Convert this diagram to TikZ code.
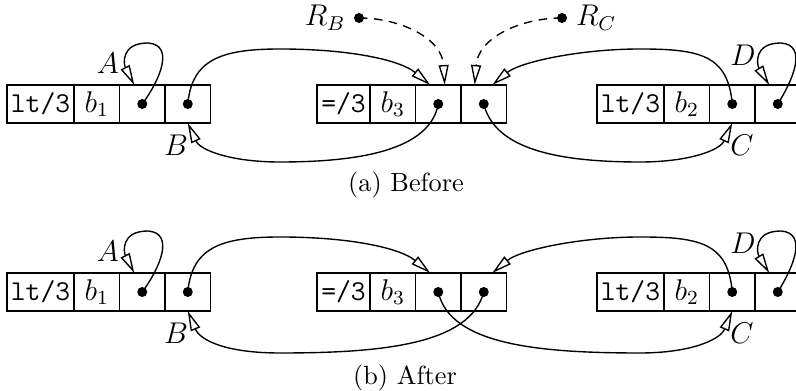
\documentclass[tikz,border=0pt]{standalone}
\usetikzlibrary{arrows.meta,calc}
\begin{document}
\begin{tikzpicture}[x=0.4pt,y=-0.4pt,
  cell/.style={draw,line width=0.55pt,minimum height=15.2pt,minimum width=18.2pt,inner sep=0pt,outer sep=0pt,anchor=west,font=\fontsize{11.5}{13}\selectfont},
  tagcell/.style={cell,minimum width=26.8pt},
  eqcell/.style={cell,minimum width=21.2pt},
  ptr/.style={circle,fill,inner sep=0pt,minimum size=4pt},
  link/.style={line width=0.55pt,-{Triangle[fill=white,length=8pt,width=4pt,line width=0.55pt]}},
  root/.style={link,dashed,dash pattern=on 3.4pt off 2.6pt},
  lbl/.style={inner sep=0pt,font=\fontsize{11.5}{13}\selectfont},
  captext/.style={font=\fontsize{10.5}{12}\selectfont}
]
\useasboundingbox (0,0) rectangle (796,391);

\foreach \r/\y/\dy in {t/104/0,b/292/188}{
  % record 1
  \node[tagcell] (r1a\r) at (7,\y) {\texttt{lt/3}};
  \node[cell] (r1b\r) at (r1a\r.east) {$b_1$};
  \node[cell] (r1c\r) at (r1b\r.east) {};
  \node[cell] (r1d\r) at (r1c\r.east) {};
  % record 2
  \node[eqcell] (r2a\r) at (317,\y) {\texttt{=/3}};
  \node[cell] (r2b\r) at (r2a\r.east) {$b_3$};
  \node[cell] (r2c\r) at (r2b\r.east) {};
  \node[cell] (r2d\r) at (r2c\r.east) {};
  % record 3
  \node[tagcell] (r3a\r) at (597,\y) {\texttt{lt/3}};
  \node[cell] (r3b\r) at (r3a\r.east) {$b_2$};
  \node[cell] (r3c\r) at (r3b\r.east) {};
  \node[cell] (r3d\r) at (r3c\r.east) {};
  % pointer dots
  \node[ptr] (p1c\r) at (r1c\r.center) {};
  \node[ptr] (p1d\r) at (r1d\r.center) {};
  \node[ptr] (p2c\r) at (r2c\r.center) {};
  \node[ptr] (p2d\r) at (r2d\r.center) {};
  \node[ptr] (p3c\r) at (r3c\r.center) {};
  \node[ptr] (p3d\r) at (r3d\r.center) {};
  % labels
  \node[lbl] (la\r) at (108,63+\dy) {$A$};
  \node[lbl] (lb\r) at (176,145+\dy) {$B$};
  \node[lbl] (lc\r) at (742,145+\dy) {$C$};
  \node[lbl] (ld\r) at (743,55+\dy) {$D$};
  % self loop A
  \draw[link] (p1c\r.center) .. controls (160,80+\dy) and (175,45+\dy) .. (148,43+\dy)
     .. controls (120,43+\dy) and (124,65+\dy) .. ([xshift=-3.2pt]r1c\r.north);
  % self loop D
  \draw[link] (p3d\r.center) .. controls (793,80+\dy) and (808,45+\dy) .. (781,43+\dy)
     .. controls (753,43+\dy) and (757,65+\dy) .. ([xshift=-3.4pt]r3d\r.north);
  % record 1 -> record 2
  \draw[link] (p1d\r.center) .. controls (192,60+\dy) and (220,49+\dy) .. (280,49+\dy)
     .. controls (350,49+\dy) and (400,60+\dy) .. ([xshift=-3.2pt]r2c\r.north);
  % record 3 -> record 2
  \draw[link] (p3c\r.center) .. controls (728,55+\dy) and (700,49+\dy) .. (640,49+\dy)
     .. controls (580,49+\dy) and (520,62+\dy) .. ([xshift=3.4pt]r2d\r.north);
}

% Before: back links
\draw[link] (p2ct.center) .. controls (430,150) and (360,162) .. (280,162)
   .. controls (230,162) and (200,150) .. (r1dt.south);
\draw[link] (p2dt.center) .. controls (495,150) and (560,162) .. (640,162)
   .. controls (690,162) and (720,150) .. (r3ct.south);
% roots
\node[ptr] (rbdot) at (359,18) {};
\node[lbl,anchor=east] (rb) at ([xshift=-3pt]rbdot.west) {$R_B$};
\node[ptr] (rcdot) at (562,18) {};
\node[lbl,anchor=west] (rc) at ([xshift=3.2pt]rcdot.east) {$R_C$};
\draw[root] (rbdot.center) .. controls (400,18) and (442,38) .. ([xshift=2.6pt]r2ct.north);
\draw[root] (rcdot.center) .. controls (520,18) and (478,38) .. ([xshift=-3.6pt]r2dt.north);

% After: crossed back links
\draw[link] (p2db.center) .. controls (470,345) and (380,353) .. (280,353)
   .. controls (225,353) and (200,340) .. (r1db.south);
\draw[link] (p2cb.center) .. controls (450,345) and (540,353) .. (640,353)
   .. controls (690,353) and (720,340) .. (r3cb.south);

% captions
\node[captext] (capa) at (406,185) {(a) Before};
\node[captext] (capb) at (405,378) {(b) After};
\end{tikzpicture}
\end{document}
